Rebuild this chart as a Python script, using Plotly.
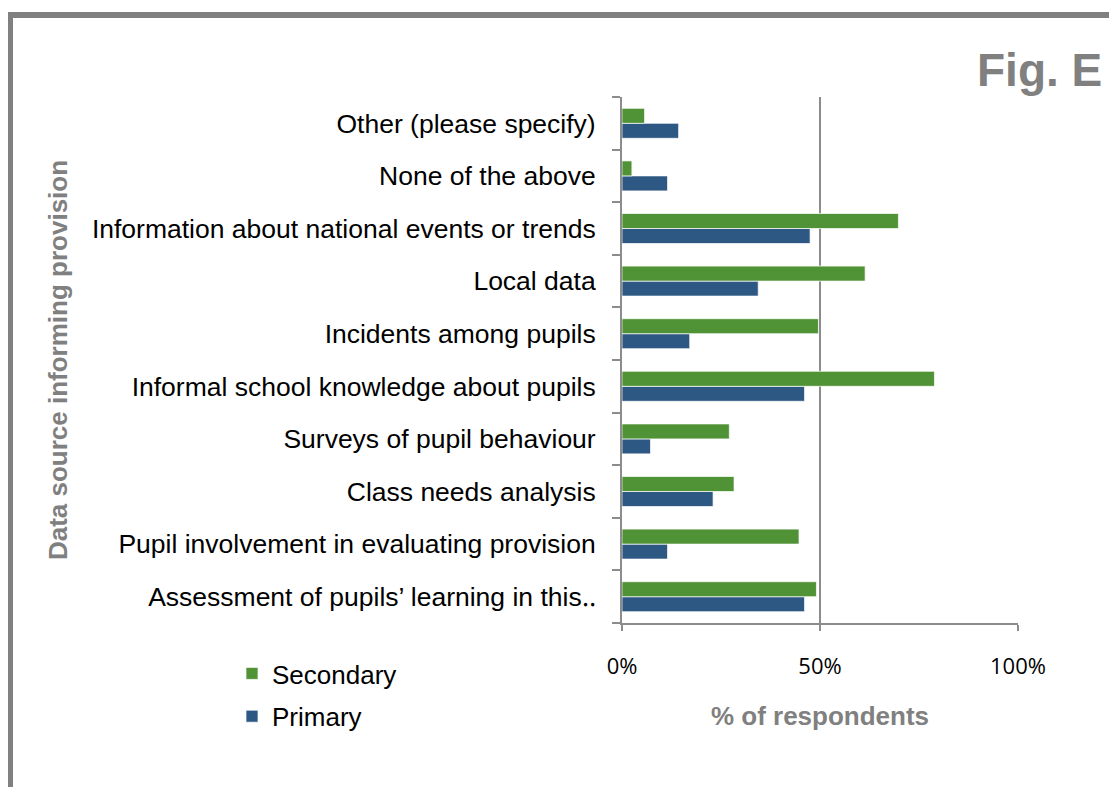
import plotly.graph_objects as go

GREEN = '#509236'
BLUE = '#2E5884'
GRAY = '#808080'
AXIS = '#8c8c8c'

# bottom to top, as plotted
categories = [
    'Assessment of pupils’ learning in this‥',
    'Pupil involvement in evaluating provision',
    'Class needs analysis',
    'Surveys of pupil behaviour',
    'Informal school knowledge about pupils',
    'Incidents among pupils',
    'Local data',
    'Information about national events or trends',
    'None of the above',
    'Other (please specify)',
]
secondary = [0.491, 0.447, 0.283, 0.271, 0.789, 0.496, 0.614, 0.698, 0.025, 0.057]
primary = [0.461, 0.115, 0.230, 0.072, 0.461, 0.171, 0.344, 0.475, 0.115, 0.143]
x_ticks = [0, 0.5, 1.0]

# page has an 8px body margin, so the figure is drawn 8px smaller
OFF = 8
W, H = 1117 - OFF, 787 - OFF
L, R, T, B = 622 - OFF, 1018 - OFF, 97 - OFF, 623 - OFF


def px_x(p):
    # page pixel -> paper x
    return (p - OFF - L) / (R - L)


def px_y(p):
    # page pixel -> paper y
    return (B - (p - OFF)) / (B - T)


fig = go.Figure()

fig.add_trace(go.Bar(
    y=categories, x=primary, orientation='h', name='Primary',
    marker=dict(color=BLUE, line=dict(color='rgba(255,255,255,0.7)', width=1)),
    legendgroup='p', legendrank=2,
))
fig.add_trace(go.Bar(
    y=categories, x=secondary, orientation='h', name='Secondary',
    marker=dict(color=GREEN, line=dict(color='rgba(255,255,255,0.7)', width=1)),
    legendgroup='s', legendrank=1,
))

# outer frame (top and left edges)
x0, y0, x1, y1 = px_x(10), px_y(800), px_x(1130), px_y(15)
fig.add_shape(
    type='path', xref='paper', yref='paper',
    path=f'M {x0},{y0} L {x0},{y1} L {x1},{y1}',
    line=dict(color=GRAY, width=6),
)

fig.add_annotation(
    text='<b>Fig. E</b>', xref='paper', yref='paper',
    x=px_x(1104), y=px_y(70), xanchor='right', yanchor='middle',
    showarrow=False, font=dict(family='Liberation Sans', size=46, color=GRAY),
)

fig.update_layout(
    width=W, height=H,
    paper_bgcolor='white', plot_bgcolor='white',
    margin=dict(l=L, r=W - R, t=T, b=H - B),
    barmode='group', bargap=0.43, bargroupgap=0,
    font=dict(family='Liberation Sans', color='black'),
    xaxis=dict(
        range=[0, 1], tickvals=x_ticks, tickformat='.0%',
        showgrid=True, gridcolor=AXIS, gridwidth=2,
        showline=True, linecolor=AXIS, linewidth=2,
        ticks='outside', ticklen=6, tickcolor=AXIS, tickwidth=2,
        tickfont=dict(family='Open Sans', size=22, color='black'),
        ticklabelstandoff=17,
        title=dict(text='<b>% of respondents</b>', standoff=27,
                   font=dict(family='Liberation Sans', size=26, color=GRAY)),
        zeroline=False, fixedrange=True,
    ),
    yaxis=dict(
        categoryorder='array', categoryarray=categories,
        showline=True, linecolor=AXIS, linewidth=2,
        ticks='outside', ticklen=8, tickcolor=AXIS, tickwidth=2,
        tickson='boundaries', ticklabelstandoff=19,
        tickfont=dict(family='Liberation Sans', size=26.5, color='black'),
        title=dict(text='<b>Data source informing provision</b>', standoff=17,
                   font=dict(family='Liberation Sans', size=26, color=GRAY)),
        showgrid=False, fixedrange=True,
    ),
    legend=dict(
        x=px_x(232), y=px_y(650), xanchor='left', yanchor='top',
        traceorder='grouped', tracegroupgap=6,
        font=dict(family='Liberation Sans', size=26, color='black'),
        bgcolor='rgba(0,0,0,0)',
    ),
    showlegend=True,
)

fig.write_html('out.html')
